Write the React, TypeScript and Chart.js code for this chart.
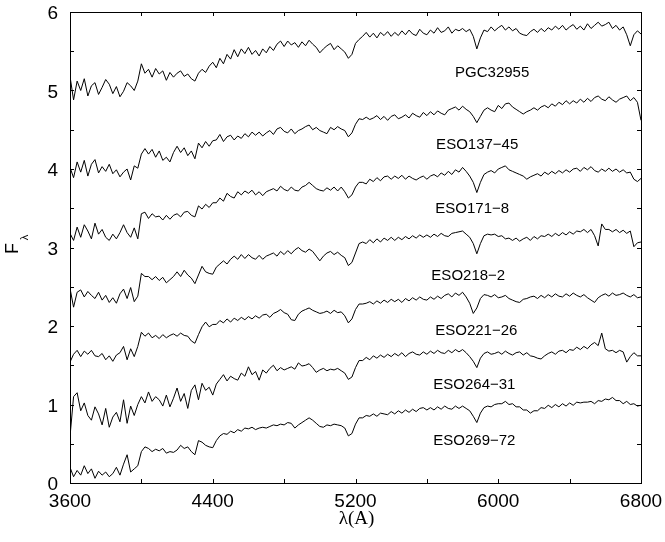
import React, { useEffect, useRef } from 'react';
import { Chart, registerables } from 'chart.js';

Chart.register(...registerables);

// Wavelength grid (Å): every value below is sampled at WAVE_START + i * WAVE_STEP
const WAVE_START = 3600;
const WAVE_STEP = 20;

const galaxyNames = ['PGC32955', 'ESO137−45', 'ESO171−8', 'ESO218−2', 'ESO221−26', 'ESO264−31', 'ESO269−72'];

const pgc32955 = [
  5.18, 4.88, 5.12, 5.00, 5.15, 4.93, 5.06, 5.10, 4.95, 5.04,
  5.14, 5.08, 4.96, 5.05, 4.92, 4.99, 5.10, 5.06, 5.00, 5.12,
  5.34, 5.22, 5.27, 5.17, 5.28, 5.21, 5.25, 5.13, 5.23, 5.17,
  5.22, 5.25, 5.18, 5.21, 5.15, 5.12, 5.22, 5.27, 5.23, 5.31,
  5.36, 5.29, 5.41, 5.34, 5.46, 5.40, 5.52, 5.43, 5.53, 5.47,
  5.55, 5.46, 5.51, 5.44, 5.53, 5.48, 5.56, 5.51, 5.59, 5.63,
  5.56, 5.63, 5.58, 5.61, 5.55, 5.62, 5.57, 5.64, 5.59, 5.55,
  5.48, 5.53, 5.57, 5.60, 5.52, 5.57, 5.53, 5.49, 5.41, 5.46,
  5.60, 5.65, 5.69, 5.74, 5.68, 5.73, 5.67, 5.74, 5.70, 5.75,
  5.69, 5.74, 5.70, 5.76, 5.71, 5.77, 5.72, 5.70, 5.78, 5.73,
  5.71, 5.77, 5.73, 5.80, 5.74, 5.76, 5.81, 5.73, 5.78, 5.76,
  5.79, 5.75, 5.78, 5.69, 5.53, 5.67, 5.77, 5.75, 5.81, 5.76,
  5.80, 5.83, 5.77, 5.81, 5.76, 5.79, 5.73, 5.71, 5.70, 5.75,
  5.78, 5.74, 5.79, 5.75, 5.80, 5.77, 5.82, 5.78, 5.83, 5.77,
  5.81, 5.84, 5.78, 5.82, 5.77, 5.85, 5.79, 5.83, 5.87, 5.82,
  5.84, 5.87, 5.79, 5.83, 5.77, 5.81, 5.71, 5.57, 5.71, 5.76,
  5.72,
];

const eso137_45 = [
  4.02, 3.89, 4.09, 3.96, 4.11, 3.91, 4.06, 4.12, 3.95, 4.03,
  3.97, 4.06, 3.94, 3.99, 3.90, 3.96, 4.00, 3.86, 4.04, 4.01,
  4.19, 4.26, 4.19, 4.25, 4.15, 4.23, 4.11, 4.15, 4.09, 4.21,
  4.29, 4.21, 4.27, 4.17, 4.23, 4.13, 4.33, 4.27, 4.35, 4.29,
  4.36, 4.37, 4.44, 4.35, 4.41, 4.43, 4.37, 4.42, 4.39, 4.45,
  4.41, 4.47, 4.43, 4.47, 4.42, 4.46, 4.49, 4.44, 4.51, 4.53,
  4.48, 4.46, 4.51, 4.45, 4.49, 4.51, 4.54, 4.56, 4.50, 4.53,
  4.49, 4.47, 4.45, 4.53, 4.50, 4.54, 4.51, 4.49, 4.41, 4.46,
  4.57, 4.64, 4.63, 4.66, 4.63, 4.65, 4.68, 4.63, 4.67, 4.62,
  4.67, 4.69, 4.64, 4.66, 4.69, 4.65, 4.71, 4.68, 4.66, 4.72,
  4.68, 4.73, 4.69, 4.74, 4.71, 4.69, 4.75, 4.77, 4.79, 4.75,
  4.80, 4.76, 4.73, 4.67, 4.59, 4.67, 4.75, 4.78, 4.75, 4.73,
  4.81, 4.77, 4.83, 4.84, 4.79, 4.76, 4.73, 4.70, 4.73, 4.75,
  4.78, 4.75, 4.79, 4.81, 4.78, 4.83, 4.80, 4.85, 4.82, 4.87,
  4.83, 4.87, 4.84, 4.89, 4.85, 4.90, 4.86, 4.91, 4.93, 4.89,
  4.87, 4.92, 4.88, 4.85, 4.89, 4.91, 4.93, 4.87, 4.91, 4.85,
  4.62,
];

const eso171_8 = [
  3.18, 3.09, 3.26, 3.13, 3.29, 3.21, 3.11, 3.31, 3.17, 3.23,
  3.13, 3.09, 3.17, 3.11, 3.19, 3.29, 3.19, 3.13, 3.25, 3.11,
  3.43, 3.45, 3.37, 3.43, 3.39, 3.40, 3.35, 3.41, 3.36, 3.41,
  3.43, 3.39, 3.45, 3.46, 3.41, 3.39, 3.53, 3.49, 3.55, 3.51,
  3.57, 3.57, 3.63, 3.59, 3.69, 3.65, 3.63, 3.71, 3.67, 3.72,
  3.69, 3.73, 3.67, 3.71, 3.66, 3.71, 3.73, 3.75, 3.72, 3.78,
  3.74, 3.72, 3.77, 3.73, 3.72, 3.77, 3.79, 3.83, 3.79, 3.75,
  3.73, 3.72, 3.76, 3.73, 3.77, 3.72, 3.77, 3.71, 3.63, 3.67,
  3.77, 3.83, 3.83, 3.81, 3.87, 3.84, 3.89, 3.85, 3.90, 3.91,
  3.87, 3.91, 3.88, 3.92, 3.87, 3.91, 3.88, 3.86, 3.89, 3.91,
  3.87, 3.91, 3.93, 3.90, 3.95, 3.92, 3.97, 3.93, 3.99, 3.96,
  4.02, 3.97, 3.91, 3.83, 3.70, 3.83, 3.93, 3.96, 3.98, 3.95,
  4.00, 4.02, 4.04, 3.99, 3.97, 3.95, 3.93, 3.91, 3.87, 3.90,
  3.92, 3.94, 3.91, 3.96, 3.93, 3.97, 3.94, 3.98, 3.95, 3.99,
  3.96, 4.00, 4.01, 3.97, 4.02, 3.99, 4.03, 3.98, 3.96, 4.00,
  3.97, 4.01, 3.97, 4.00, 3.96, 3.99, 3.95, 3.96, 3.87, 3.84,
  3.88,
];

const eso218_2 = [
  2.48, 2.24, 2.43, 2.46, 2.37, 2.44, 2.39, 2.35, 2.43, 2.33,
  2.39, 2.30, 2.36, 2.29, 2.41, 2.47, 2.35, 2.49, 2.31, 2.38,
  2.67, 2.63, 2.63, 2.59, 2.63, 2.58, 2.62, 2.55, 2.59, 2.63,
  2.69, 2.63, 2.71, 2.65, 2.61, 2.54, 2.65, 2.76, 2.69, 2.67,
  2.66, 2.75, 2.79, 2.83, 2.79, 2.85, 2.89, 2.85, 2.91, 2.86,
  2.91, 2.87, 2.85, 2.90, 2.85, 2.89, 2.91, 2.93, 2.89, 2.95,
  2.91, 2.96, 2.92, 2.97, 3.00, 2.96, 2.94, 2.98, 2.95, 2.89,
  2.83, 2.89, 2.93, 2.95, 2.91, 2.94, 2.90, 2.87, 2.77, 2.81,
  2.93, 3.05, 3.07, 3.05, 3.10, 3.06, 3.11, 3.07, 3.12, 3.09,
  3.13, 3.09, 3.13, 3.10, 3.14, 3.11, 3.15, 3.12, 3.16, 3.13,
  3.16, 3.13, 3.17, 3.14, 3.18, 3.15, 3.14, 3.18, 3.19, 3.20,
  3.21, 3.17, 3.13, 3.05, 2.92, 3.05, 3.15, 3.17, 3.16, 3.17,
  3.14, 3.15, 3.11, 3.12, 3.09, 3.12, 3.08, 3.11, 3.13, 3.09,
  3.14, 3.11, 3.15, 3.14, 3.17, 3.14, 3.18, 3.15, 3.19, 3.16,
  3.20, 3.17, 3.21, 3.20, 3.23, 3.19, 3.23, 3.15, 3.02, 3.30,
  3.23, 3.23, 3.20, 3.23, 3.19, 3.22, 3.18, 3.21, 3.01, 3.06,
  3.07,
];

const eso221_26 = [
  1.54, 1.64, 1.69, 1.61, 1.68, 1.64, 1.69, 1.62, 1.61, 1.65,
  1.57, 1.62, 1.55, 1.63, 1.66, 1.74, 1.57, 1.71, 1.61, 1.74,
  1.92, 1.87, 1.91, 1.85, 1.88, 1.84, 1.89, 1.85, 1.88, 1.90,
  1.87, 1.91, 1.88, 1.87, 1.81, 1.78, 1.89, 1.99, 2.05, 1.99,
  2.02, 2.02, 2.07, 2.04, 2.09, 2.05, 2.10, 2.07, 2.11, 2.08,
  2.12, 2.09, 2.13, 2.10, 2.14, 2.15, 2.11, 2.16, 2.18, 2.21,
  2.17, 2.15, 2.08, 2.07, 2.15, 2.19, 2.21, 2.23, 2.20, 2.18,
  2.16, 2.17, 2.19, 2.16, 2.20, 2.17, 2.18, 2.13, 2.04, 2.09,
  2.21, 2.28, 2.28, 2.29, 2.31, 2.28, 2.32, 2.29, 2.33, 2.30,
  2.34, 2.31, 2.34, 2.30, 2.35, 2.32, 2.36, 2.33, 2.37, 2.34,
  2.33, 2.37, 2.34, 2.38, 2.35, 2.39, 2.41, 2.37, 2.42, 2.39,
  2.43, 2.37, 2.29, 2.16, 2.23, 2.35, 2.40, 2.39, 2.37, 2.40,
  2.36, 2.37, 2.39, 2.35, 2.33, 2.31, 2.30, 2.34, 2.35, 2.37,
  2.38, 2.35, 2.39, 2.36, 2.40, 2.37, 2.41, 2.38, 2.37, 2.41,
  2.38, 2.42, 2.39, 2.37, 2.40, 2.36, 2.33, 2.30, 2.36, 2.39,
  2.41, 2.38, 2.42, 2.39, 2.40, 2.42, 2.39, 2.37, 2.40, 2.36,
  2.37,
];

const eso264_31 = [
  0.59, 1.10, 1.15, 0.92, 1.02, 0.86, 0.80, 0.97, 0.88, 0.74,
  0.95, 0.71, 0.84, 0.90, 0.78, 1.06, 0.76, 0.98, 0.86, 1.00,
  1.10, 1.02, 1.16, 1.04, 1.10, 1.06, 0.98, 1.12, 0.97, 1.08,
  1.21, 1.04, 1.14, 0.95, 1.18, 1.25, 1.06, 1.27, 1.18, 1.22,
  1.12, 1.26, 1.32, 1.38, 1.30, 1.36, 1.33, 1.31, 1.40, 1.36,
  1.48, 1.38, 1.42, 1.31, 1.44, 1.40, 1.46, 1.50, 1.43, 1.47,
  1.44, 1.46, 1.48, 1.45, 1.53, 1.49, 1.50, 1.52, 1.47, 1.41,
  1.44, 1.46, 1.43, 1.45, 1.44, 1.46, 1.43, 1.40, 1.32, 1.35,
  1.47, 1.56, 1.56, 1.60, 1.57, 1.62, 1.59, 1.63, 1.60, 1.64,
  1.61, 1.65, 1.62, 1.66, 1.61, 1.65, 1.67, 1.64, 1.63, 1.67,
  1.64, 1.68, 1.65, 1.69, 1.66, 1.65, 1.69, 1.66, 1.70, 1.67,
  1.70, 1.66, 1.61, 1.55, 1.47, 1.59, 1.65, 1.67, 1.64, 1.65,
  1.67, 1.64, 1.68, 1.65, 1.63, 1.66, 1.67, 1.63, 1.66, 1.62,
  1.61, 1.59, 1.58, 1.62, 1.65, 1.67, 1.64, 1.68, 1.69, 1.66,
  1.70, 1.69, 1.73, 1.70, 1.74, 1.71, 1.76, 1.79, 1.75, 1.91,
  1.71, 1.68, 1.69, 1.66, 1.69, 1.67, 1.54, 1.61, 1.66, 1.62,
  1.62,
];

const eso269_72 = [
  0.20, 0.08, 0.16, 0.10, 0.22, 0.12, 0.18, 0.06, 0.15, 0.10,
  0.14, 0.08, 0.12, 0.20, 0.10, 0.24, 0.36, 0.14, 0.18, 0.22,
  0.40, 0.46, 0.44, 0.40, 0.43, 0.41, 0.44, 0.38, 0.40, 0.39,
  0.42, 0.48, 0.44, 0.46, 0.40, 0.36, 0.54, 0.52, 0.48, 0.46,
  0.45, 0.54, 0.60, 0.63, 0.62, 0.66, 0.64, 0.68, 0.66, 0.70,
  0.69, 0.71, 0.68, 0.70, 0.71, 0.70, 0.72, 0.74, 0.73, 0.75,
  0.74, 0.77, 0.76, 0.70, 0.74, 0.77, 0.80, 0.83, 0.80, 0.76,
  0.72, 0.71, 0.74, 0.73, 0.75, 0.74, 0.73, 0.70, 0.60, 0.63,
  0.75, 0.83, 0.83, 0.86, 0.85, 0.88, 0.85, 0.89, 0.88, 0.87,
  0.91, 0.88, 0.92, 0.89, 0.93, 0.90, 0.94, 0.91, 0.95, 0.96,
  0.93, 0.96, 0.93, 0.97, 0.94, 0.98, 0.95, 0.94, 0.98, 0.95,
  0.98, 0.95, 0.92, 0.85, 0.77, 0.89, 0.96, 0.98, 0.97, 1.00,
  1.01, 1.01, 1.04, 1.00, 1.01, 0.97, 0.97, 0.93, 0.93, 0.89,
  0.92, 0.92, 0.96, 0.95, 0.99, 0.96, 1.00, 0.97, 1.01, 0.98,
  1.02, 0.99, 1.03, 1.02, 1.03, 1.03, 1.04, 1.01, 1.05, 1.04,
  1.07, 1.06, 1.09, 1.05, 1.05, 1.01, 1.04, 1.00, 1.01, 0.98,
  0.99,
];

const spectra = [pgc32955, eso137_45, eso171_8, eso218_2, eso221_26, eso264_31, eso269_72];

// Label anchor positions in data units (wavelength, flux)
const labelWave = [5966, 5882, 5854, 5832, 5877, 5866, 5866];
const labelFlux = [5.22, 4.31, 3.49, 2.64, 1.94, 1.25, 0.54];

const X_MIN = 3600;
const X_MAX = 6800;
const X_TICK_STEP = 400;
const X_LABEL_STEP = 800;
const Y_MIN = 0;
const Y_MAX = 6;
const Y_TICK_STEP = 0.5;

const SANS = '"Liberation Sans", Arial, Helvetica, sans-serif';
const SERIF = '"Liberation Serif", "Times New Roman", serif';

const framePlugin = {
  id: 'framePlugin',
  afterDraw(chart: any) {
    const { ctx, chartArea: a, scales } = chart;
    const xs = scales.x;
    const ys = scales.y;
    ctx.save();
    ctx.strokeStyle = '#000';
    ctx.fillStyle = '#000';
    ctx.lineWidth = 1;
    ctx.strokeRect(Math.round(a.left) + 0.5, Math.round(a.top) + 0.5, Math.round(a.right - a.left), Math.round(a.bottom - a.top));
    const tl = 4;
    ctx.beginPath();
    for (let v = X_MIN; v <= X_MAX; v += X_TICK_STEP) {
      const px = Math.round(xs.getPixelForValue(v)) + 0.5;
      ctx.moveTo(px, a.bottom);
      ctx.lineTo(px, a.bottom - tl);
      ctx.moveTo(px, a.top);
      ctx.lineTo(px, a.top + tl);
    }
    for (let v = Y_MIN; v <= Y_MAX + 1e-9; v += Y_TICK_STEP) {
      const py = Math.round(ys.getPixelForValue(v)) + 0.5;
      ctx.moveTo(a.left, py);
      ctx.lineTo(a.left + tl, py);
      ctx.moveTo(a.right, py);
      ctx.lineTo(a.right - tl, py);
    }
    ctx.stroke();

    // tick labels
    ctx.font = `19px ${SANS}`;
    ctx.textBaseline = 'alphabetic';
    ctx.textAlign = 'center';
    for (let v = X_MIN; v <= X_MAX; v += X_LABEL_STEP) {
      ctx.fillText(String(v), xs.getPixelForValue(v), a.bottom + 24);
    }
    ctx.textAlign = 'right';
    for (let v = Y_MIN; v <= Y_MAX; v += 1) {
      ctx.fillText(String(v), a.left - 12, ys.getPixelForValue(v) + 7);
    }

    // galaxy labels
    ctx.font = `15px ${SANS}`;
    ctx.textAlign = 'center';
    ctx.textBaseline = 'middle';
    galaxyNames.forEach((n, i) => {
      ctx.fillText(n, xs.getPixelForValue(labelWave[i]), ys.getPixelForValue(labelFlux[i]));
    });

    // x title
    ctx.font = `19px ${SERIF}`;
    ctx.fillText('λ(A)', (a.left + a.right) / 2 + 1, 519);

    // y title F_λ
    ctx.translate(13.5, (a.top + a.bottom) / 2 + 1);
    ctx.rotate(-Math.PI / 2);
    ctx.font = `18px ${SANS}`;
    ctx.fillText('F', 0, 0);
    ctx.font = `11px ${SANS}`;
    ctx.fillText('λ', 11, 11);
    ctx.restore();
  },
};

export default function App() {
  const ref = useRef<HTMLCanvasElement | null>(null);
  useEffect(() => {
    if (!ref.current) return;
    const datasets = spectra.map((vals, k) => ({
      label: galaxyNames[k],
      data: vals.map((v, i) => ({ x: WAVE_START + i * WAVE_STEP, y: v })),
      borderColor: '#000',
      borderWidth: 1,
      pointRadius: 0,
      tension: 0,
      fill: false,
    }));
    const chart = new Chart(ref.current, {
      type: 'line',
      data: { datasets },
      options: {
        animation: false,
        responsive: false,
        devicePixelRatio: 1,
        layout: { padding: { left: 70, top: 12, right: 24, bottom: 59 } },
        plugins: { legend: { display: false }, tooltip: { enabled: false }, title: { display: false } },
        scales: {
          x: { type: 'linear', min: X_MIN, max: X_MAX, display: false },
          y: { type: 'linear', min: Y_MIN, max: Y_MAX, display: false },
        },
      },
      plugins: [framePlugin],
    });
    return () => chart.destroy();
  }, []);
  return (
    <div style={{ position: 'absolute', left: 0, top: 0, width: 665, height: 542, background: '#fff' }}>
      <canvas ref={ref} width={665} height={542} style={{ display: 'block' }} />
    </div>
  );
}
